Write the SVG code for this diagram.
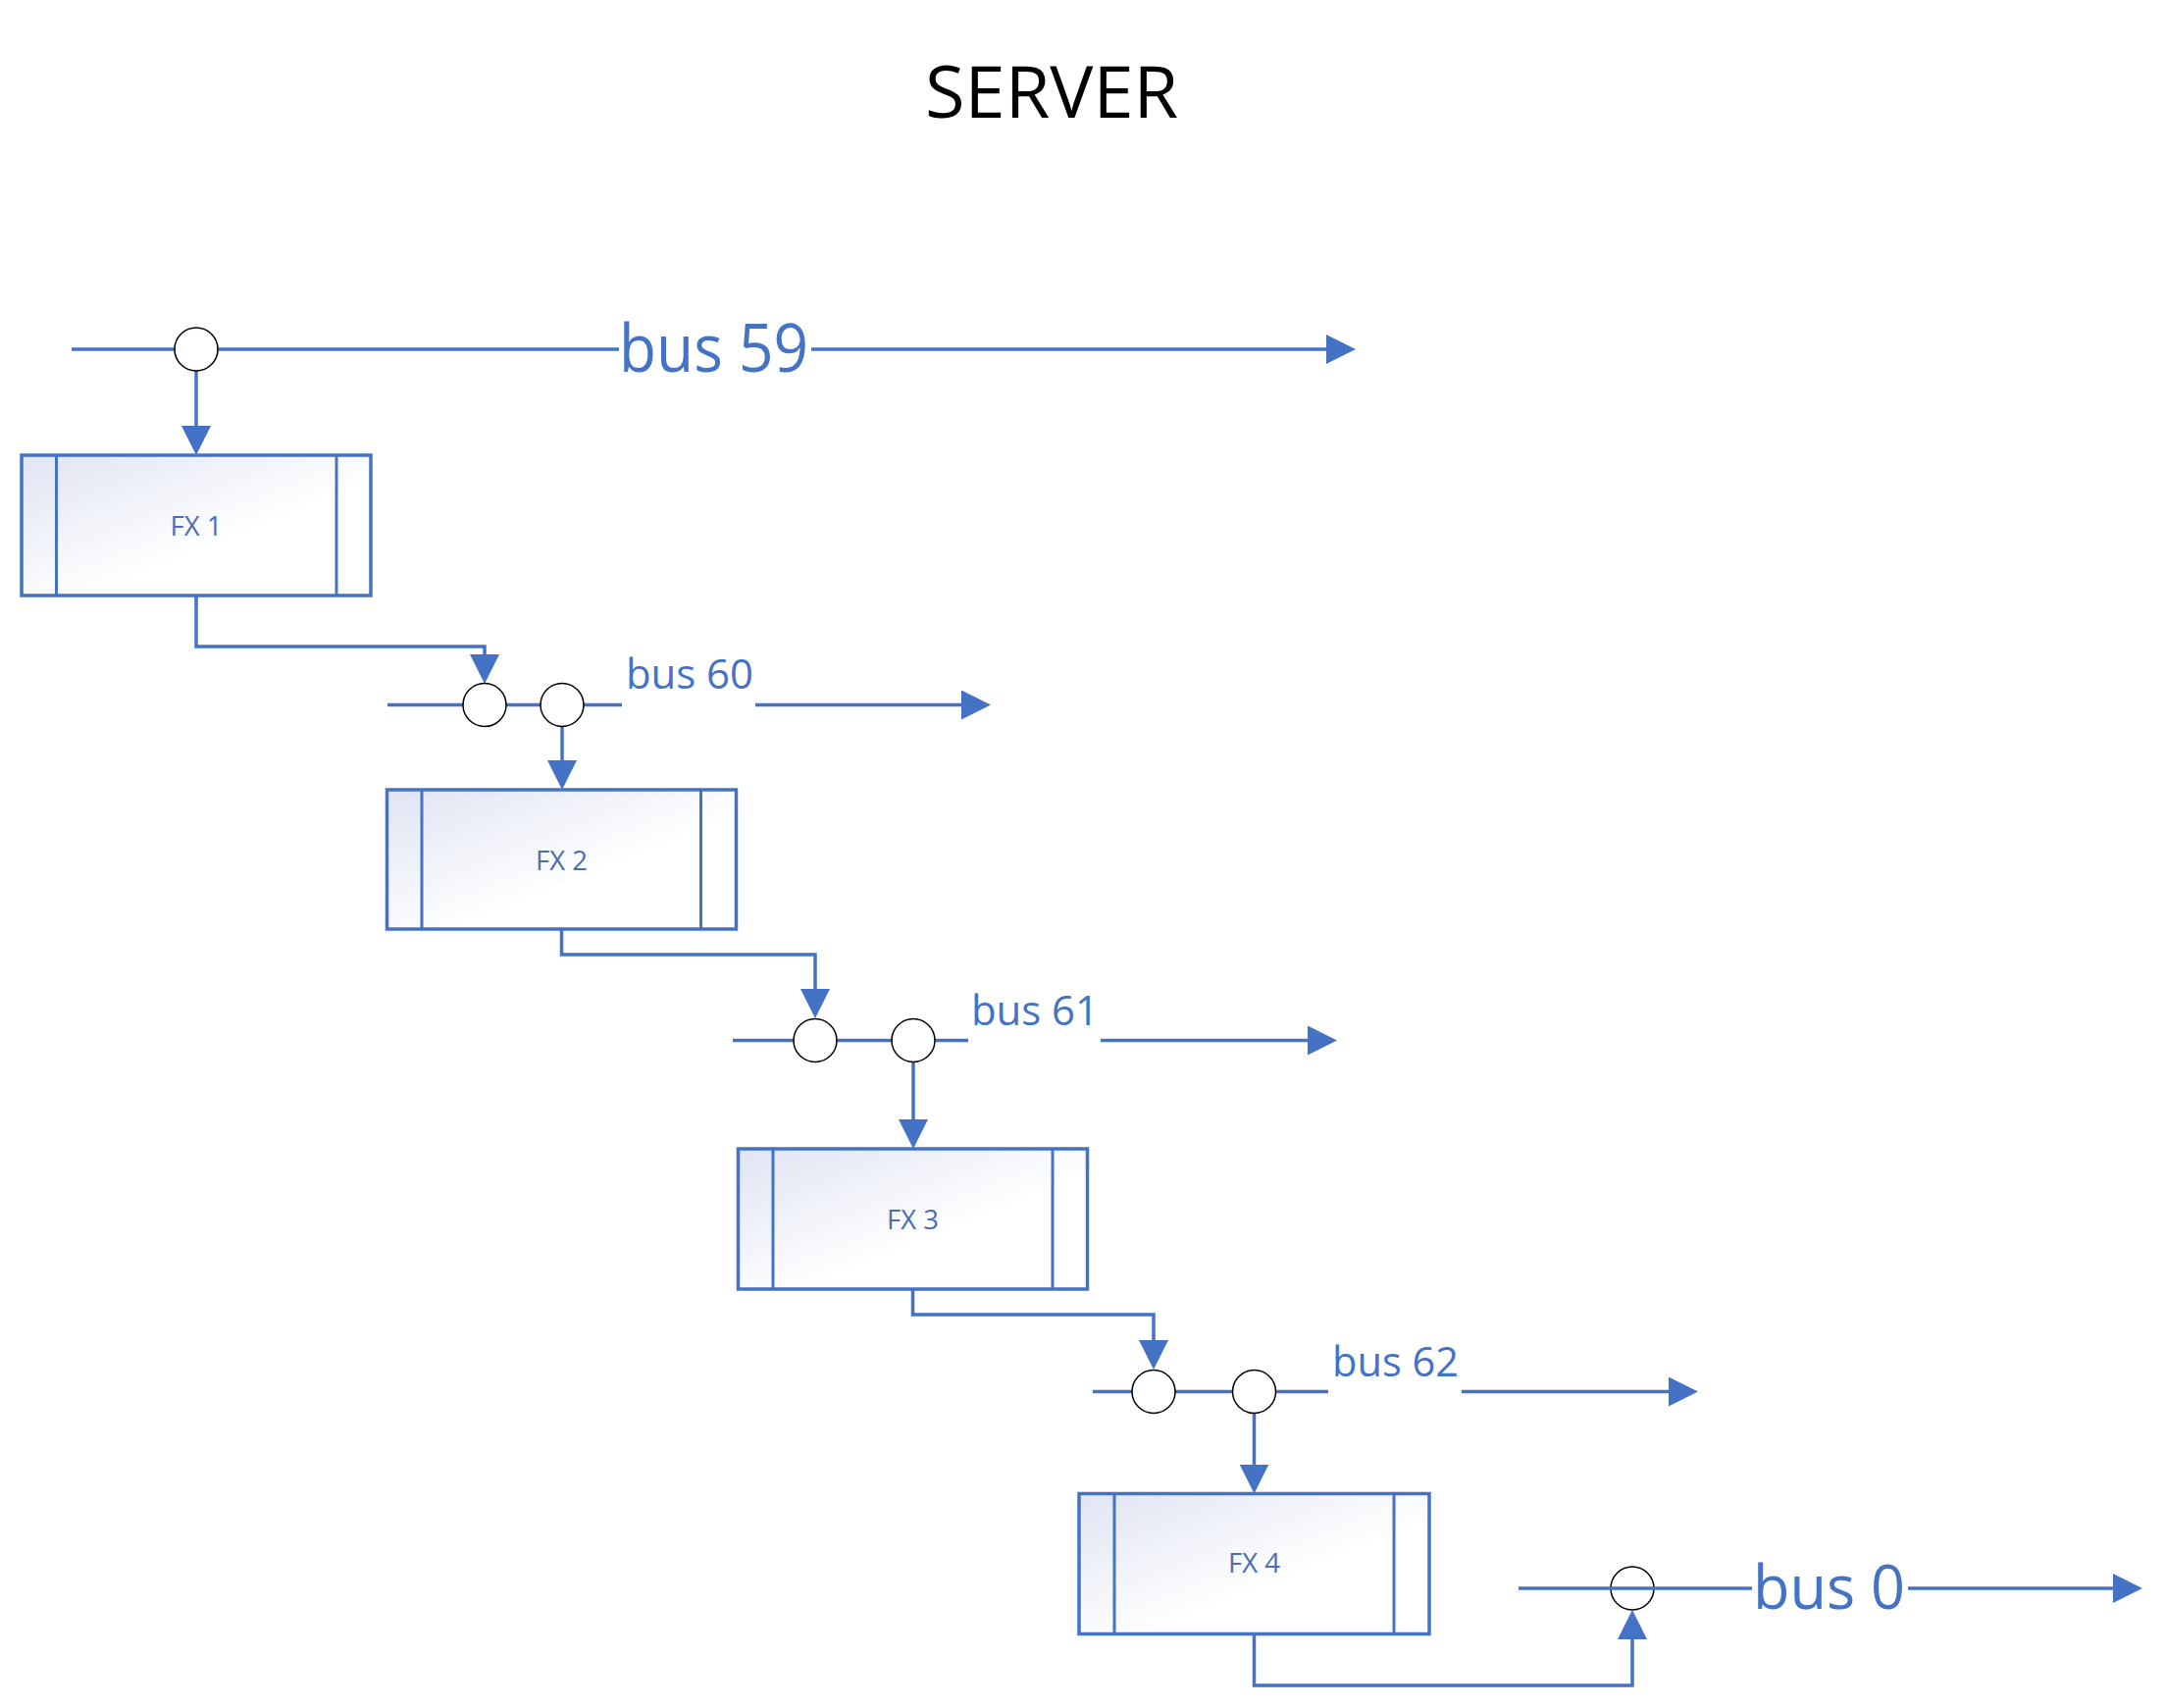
<svg xmlns="http://www.w3.org/2000/svg" width="2206" height="1741" viewBox="0 0 2206 1741">
<style>
.ln{fill:none;stroke:#4472C4;stroke-width:3.5}
.box{fill:url(#g);stroke:#4472C4;stroke-width:3.5}
.strip{stroke:#4472C4;stroke-width:3}
.jn{fill:#fff;stroke:#000;stroke-width:1.5}
.jn0{fill:none;stroke:#000;stroke-width:1.5}
.bus{font-family:"Open Sans","Liberation Sans",sans-serif;fill:#4472C4}
.fx{font-family:"Open Sans","Liberation Sans",sans-serif;font-size:27.5px;fill:#4A6DB5;text-anchor:middle}
.title{font-family:"Open Sans","Liberation Sans",sans-serif;font-size:74px;fill:#000}
</style>
<defs>
<linearGradient id="g" x1="0" y1="0" x2="1" y2="1">
<stop offset="0" stop-color="#E0E4F3"/>
<stop offset="0.6" stop-color="#FFFFFF"/>
<stop offset="1" stop-color="#FFFFFF"/>
</linearGradient>
<marker id="ah" viewBox="0 0 30 30" refX="25" refY="15" markerWidth="30" markerHeight="30" markerUnits="userSpaceOnUse" orient="auto">
<path d="M0,0 L30,15 L0,30 Z" fill="#4472C4"/>
</marker>
</defs>
<rect width="2206" height="1741" fill="#fff"/>
<text class="title" x="943" y="120">SERVER</text>

<g id="connectors">
<!-- bus 59 -->
<path class="ln" d="M73,356 H631"/>
<path class="ln" d="M827,356 H1377" marker-end="url(#ah)"/>
<path class="ln" d="M200,378 V459" marker-end="url(#ah)"/>
<!-- FX1 to bus 60 -->
<path class="ln" d="M200,607 V659 H494 V692" marker-end="url(#ah)"/>
<!-- bus 60 -->
<path class="ln" d="M395,718.5 H634"/>
<path class="ln" d="M770,718.5 H1005" marker-end="url(#ah)"/>
<path class="ln" d="M573,740.5 V800" marker-end="url(#ah)"/>
<!-- FX2 to bus 61 -->
<path class="ln" d="M572.5,947 V973 H831 V1033" marker-end="url(#ah)"/>
<!-- bus 61 -->
<path class="ln" d="M747,1060.5 H987"/>
<path class="ln" d="M1122,1060.5 H1358" marker-end="url(#ah)"/>
<path class="ln" d="M931,1082.5 V1166" marker-end="url(#ah)"/>
<!-- FX3 to bus 62 -->
<path class="ln" d="M930.5,1314 V1340 H1176 V1391" marker-end="url(#ah)"/>
<!-- bus 62 -->
<path class="ln" d="M1114,1418.5 H1354"/>
<path class="ln" d="M1490,1418.5 H1726" marker-end="url(#ah)"/>
<path class="ln" d="M1278.5,1440.5 V1517.5" marker-end="url(#ah)"/>
<!-- FX4 to bus 0 -->
<path class="ln" d="M1278.5,1665.5 V1718 H1664 V1646" marker-end="url(#ah)"/>
</g>

<g id="bus59">
<circle class="jn" cx="200" cy="356" r="22"/>
<text class="bus" x="631" y="379" font-size="67" textLength="193" lengthAdjust="spacingAndGlyphs">bus 59</text>
</g>
<g id="bus60">
<circle class="jn" cx="494" cy="718.5" r="22"/>
<circle class="jn" cx="573" cy="718.5" r="22"/>
<text class="bus" x="638" y="702" font-size="42" textLength="130" lengthAdjust="spacingAndGlyphs">bus 60</text>
</g>
<g id="bus61">
<circle class="jn" cx="831" cy="1060.5" r="22"/>
<circle class="jn" cx="931" cy="1060.5" r="22"/>
<text class="bus" x="990" y="1045" font-size="42" textLength="130" lengthAdjust="spacingAndGlyphs">bus 61</text>
</g>
<g id="bus62">
<circle class="jn" cx="1176" cy="1418.5" r="22"/>
<circle class="jn" cx="1278.5" cy="1418.5" r="22"/>
<text class="bus" x="1358" y="1403" font-size="42" textLength="129" lengthAdjust="spacingAndGlyphs">bus 62</text>
</g>
<g id="bus0">
<circle class="jn" cx="1664" cy="1619" r="22"/>
<path class="ln" d="M1548,1619 H1786"/>
<path class="ln" d="M1945,1619 H2179" marker-end="url(#ah)"/>
<text class="bus" x="1787" y="1640" font-size="63" textLength="155" lengthAdjust="spacingAndGlyphs">bus 0</text>
</g>

<g id="fx1">
<rect class="box" x="22" y="464" width="356" height="143"/>
<line class="strip" x1="57.5" y1="464" x2="57.5" y2="607"/>
<line class="strip" x1="343" y1="464" x2="343" y2="607"/>
<text class="fx" x="200" y="546">FX 1</text>
</g>
<g id="fx2">
<rect class="box" x="394.5" y="805" width="356" height="142"/>
<line class="strip" x1="430" y1="805" x2="430" y2="947"/>
<line class="strip" x1="714.5" y1="805" x2="714.5" y2="947"/>
<text class="fx" x="572.5" y="887">FX 2</text>
</g>
<g id="fx3">
<rect class="box" x="752.5" y="1171" width="356" height="143"/>
<line class="strip" x1="788" y1="1171" x2="788" y2="1314"/>
<line class="strip" x1="1073" y1="1171" x2="1073" y2="1314"/>
<text class="fx" x="930.5" y="1253">FX 3</text>
</g>
<g id="fx4">
<rect class="box" x="1100" y="1522.5" width="357" height="143"/>
<line class="strip" x1="1136" y1="1522.5" x2="1136" y2="1665.5"/>
<line class="strip" x1="1421" y1="1522.5" x2="1421" y2="1665.5"/>
<text class="fx" x="1278.5" y="1603">FX 4</text>
</g>
</svg>
